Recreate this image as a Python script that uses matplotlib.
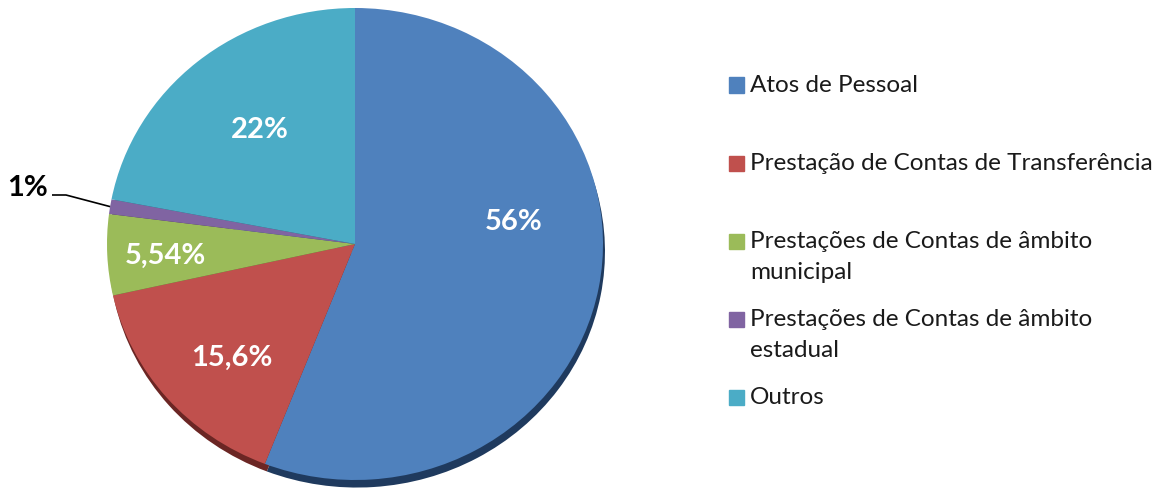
import numpy as np
import matplotlib
matplotlib.use('Agg')
import matplotlib.pyplot as plt
from matplotlib.patches import Rectangle

categories = ['Atos de Pessoal',
              'Prestação de Contas de Transferência',
              'Prestações de Contas de âmbito\nmunicipal',
              'Prestações de Contas de âmbito\nestadual',
              'Outros']
values = [56, 15.6, 5.54, 1, 22]
pct_labels = ['56%', '15,6%', '5,54%', '1%', '22%']
colors = ['#4F81BD', '#C0504D', '#9BBB59', '#8064A2', '#4BACC6']
shadow_colors = ['#1F3A5E', '#6B2624', '#4E5F2A', '#3F3152', '#25576A']

plt.rcParams['font.family'] = ['Lato', 'DejaVu Sans']

W, H = 1169, 499
fig = plt.figure(figsize=(W / 100, H / 100), dpi=100)

# pie centre and radii in pixels (slightly squashed, like the original)
cx, cy, rx, ry = 355, 244, 248, 236
ax = fig.add_axes([0, 0, 700 / W, 1])

# shadow first, then the pie itself
ax.pie(values, colors=shadow_colors, startangle=90, counterclock=False,
       center=(0.008, -0.032), radius=1.0, frame=True)
wedges, _ = ax.pie(values, colors=colors, startangle=90, counterclock=False,
                   radius=1.0, frame=True)
ax.set_aspect('auto')
ax.set_xlim((0 - cx) / rx, (700 - cx) / rx)
ax.set_ylim(-(H - cy) / ry, cy / ry)
ax.axis('off')

# label positions (pixels)
lab_pos = [(514, 222), (232, 358), (165, 256), (28, 188), (260, 130)]
for i, (lab, (px, py)) in enumerate(zip(pct_labels, lab_pos)):
    x = (px - cx) / rx
    y = (cy - py) / ry
    col = 'black' if i == 3 else 'white'
    ax.text(x, y, lab, color=col, fontsize=21, fontweight='bold',
            ha='center', va='center')

# leader line for the small slice
w = wedges[3]
mid = np.deg2rad((w.theta1 + w.theta2) / 2)
ex, ey = np.cos(mid), np.sin(mid)
ax.plot([(52 - cx) / rx, (66 - cx) / rx, ex],
        [(cy - 195) / ry, (cy - 195) / ry, ey],
        color='black', lw=1.2, solid_capstyle='butt')

# legend drawn by hand
y0, step = 85, 78
for i, (name, c) in enumerate(zip(categories, colors)):
    yc = y0 + i * step
    fig.patches.append(Rectangle((729 / W, 1 - (yc + 7.5) / H), 15 / W, 15 / H,
                                 transform=fig.transFigure, color=c))
    fig.text(750 / W, 1 - (yc - 10) / H, name, fontsize=17.5, va='top', ha='left',
             color='#1a1a1a', linespacing=1.6)

fig.savefig('out.png', dpi=100)
